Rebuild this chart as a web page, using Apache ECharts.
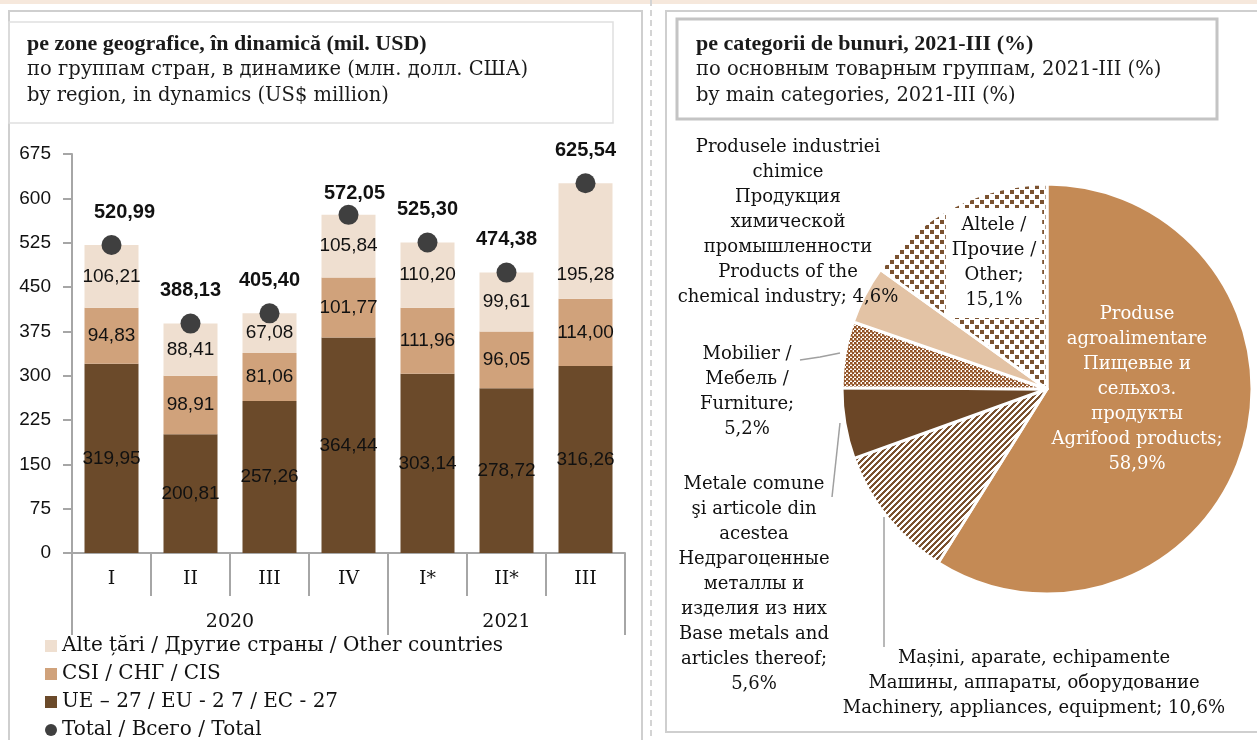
<!DOCTYPE html>
<html>
<head>
<meta charset="utf-8">
<script src="https://cdn.jsdelivr.net/npm/echarts@6/dist/echarts.min.js"></script>
<style>
  html, body { margin: 0; padding: 0; background: #fff; }
  #chart { width: 1257px; height: 740px; }
</style>
</head>
<body>
<div id="chart"></div>
<script>
  // --- data ---
  var quarters = ['I', 'II', 'III', 'IV', 'I*', 'II*', 'III'];
  var years = ['2020', '2021'];
  var yearSpans = [4, 3];
  var euVals = [319.95, 200.81, 257.26, 364.44, 303.14, 278.72, 316.26];
  var cisVals = [94.83, 98.91, 81.06, 101.77, 111.96, 96.05, 114.00];
  var otherVals = [106.21, 88.41, 67.08, 105.84, 110.20, 99.61, 195.28];
  var totalVals = [520.99, 388.13, 405.40, 572.05, 525.30, 474.38, 625.54];
  var seriesNames = ['UE – 27 / EU - 2 7 / EC - 27', 'CSI / СНГ / CIS', 'Alte țări / Другие страны / Other countries', 'Total / Всего / Total'];

  var pieNames = [
    'Produse\nagroalimentare\nПищевые и\nсельхоз.\nпродукты\nAgrifood products',
    'Mașini, aparate, echipamente\nМашины, аппараты, оборудование\nMachinery, appliances, equipment',
    'Metale comune\nşi articole din\nacestea\nНедрагоценные\nметаллы и\nизделия из них\nBase metals and\narticles thereof',
    'Mobilier /\nМебель /\nFurniture',
    'Produsele industriei\nchimice\nПродукция\nхимической\nпромышленности\nProducts of the\nchemical industry',
    'Altele /\nПрочие /\nOther'
  ];
  var pieVals = [58.9, 10.6, 5.6, 5.2, 4.6, 15.1];

  // --- styles ---
  var SERIF = "'DejaVu Serif', 'Liberation Serif', serif";
  var SERIF_B = "'Liberation Serif', 'DejaVu Serif', serif";
  var SANS = "'Liberation Sans', Arial, sans-serif";
  var axisGray = '#a6a6a6';
  var barColors = ['#6b4a2a', '#d0a27b', '#efdfd0'];

  function fmt2(v) { return v.toFixed(2).replace('.', ','); }
  function fmt1(v) { return v.toFixed(1).replace('.', ','); }

  function pattern(w, h, draw) {
    var c = document.createElement('canvas');
    c.width = w; c.height = h;
    var ctx = c.getContext('2d');
    ctx.fillStyle = '#fff';
    ctx.fillRect(0, 0, w, h);
    draw(ctx);
    return { image: c, repeat: 'repeat' };
  }
  var stripes = pattern(6, 6, function (ctx) {
    ctx.fillStyle = '#7b5230';
    for (var x = 0; x < 6; x++) for (var y = 0; y < 6; y++) if ((x + y) % 6 < 3) ctx.fillRect(x, y, 1, 1);
  });
  var checker = pattern(4, 4, function (ctx) {
    ctx.fillStyle = '#8e5228';
    ctx.fillRect(0, 0, 2, 2); ctx.fillRect(2, 2, 2, 2);
    ctx.fillStyle = '#c99a76';
    ctx.fillRect(2, 0, 2, 1); ctx.fillRect(0, 2, 1, 2);
  });
  var dots = pattern(10, 10, function (ctx) {
    ctx.fillStyle = '#7b5230';
    ctx.fillRect(0, 0, 4, 4); ctx.fillRect(5, 5, 4, 4);
  });
  var pieFills = ['#c48a55', stripes, '#6b4626', checker, '#e3c3a5', dots];
  var pieSep = [';\n', '; ', ';\n', ';\n', '; ', ';\n'];
  var pieLabelPos = [[1137, 389], [1034, 683], [754, 584], [747, 392], [788, 222], [994, 263]];
  var pieLines = [null, [[884, 517], [884, 580], [884, 647]], [[840, 423], [836, 460], [832, 497]], [[840, 353], [820, 357], [800, 360]], null, null];

  // year axis ticks and label positions from spans
  var yearTicks = [0], yearLabelPos = [];
  yearSpans.forEach(function (s) {
    var start = yearTicks[yearTicks.length - 1];
    yearLabelPos.push(start + s / 2);
    yearTicks.push(start + s);
  });

  var chart = echarts.init(document.getElementById('chart'));

  var barSeries = [euVals, cisVals, otherVals].map(function (vals, i) {
    return {
      name: seriesNames[i],
      type: 'bar',
      stack: 'total',
      barWidth: 54,
      data: vals.map(function (v, j) {
        var d = { value: v };
        if (i === 2 && j === 6) d.label = { offset: [0, 34] };
        return d;
      }),
      itemStyle: { color: barColors[i] },
      label: {
        show: true, position: 'inside', color: '#111',
        fontFamily: SANS, fontSize: 19,
        formatter: function (p) { return fmt2(p.value); }
      }
    };
  });

  var totalSeries = {
    name: seriesNames[3],
    type: 'scatter',
    symbolSize: 20,
    z: 5,
    data: totalVals.map(function (v, j) {
      var d = { value: v };
      if (j === 0) d.label = { offset: [13, 0] };
      if (j === 3) d.label = { offset: [6, 12] };
      return d;
    }),
    itemStyle: { color: '#3f3f3f', opacity: 1 },
    label: {
      show: true, position: 'top', distance: 13, color: '#111',
      fontFamily: SANS, fontSize: 20, fontWeight: 'bold',
      formatter: function (p) { return fmt2(p.value); }
    }
  };

  var pieSeries = {
    type: 'pie',
    center: [1047, 389],
    radius: 205,
    startAngle: 90,
    clockwise: true,
    animation: false,
    avoidLabelOverlap: false,
    itemStyle: { borderColor: '#fff', borderWidth: 3 },
    label: {
      show: true, position: 'outside', color: '#111',
      fontFamily: SERIF, fontSize: 18, lineHeight: 25, align: 'center',
      formatter: function (p) { return p.name + pieSep[p.dataIndex] + fmt1(p.value) + '%'; }
    },
    labelLine: { show: false, lineStyle: { color: '#a0a0a0', width: 1.5 } },
    labelLayout: function (params) {
      var i = params.dataIndex;
      var r = { x: pieLabelPos[i][0], y: pieLabelPos[i][1], align: 'center', verticalAlign: 'middle' };
      if (pieLines[i]) r.labelLinePoints = pieLines[i];
      return r;
    },
    data: pieNames.map(function (n, i) {
      var d = { name: n, value: pieVals[i], itemStyle: { color: pieFills[i] } };
      if (pieLines[i]) d.labelLine = { show: true };
      if (i === 0) d.label = { position: 'inside', color: '#fff' };
      if (i === 5) d.label = { backgroundColor: '#fff', padding: [5, 6] };
      return d;
    })
  };

  function titleLines(x, lines) {
    return lines.map(function (t, k) {
      return {
        type: 'text', left: x, top: [33, 60, 86][k],
        style: { text: t, font: (k === 0 ? 'bold 22px ' + SERIF_B : '19.5px ' + SERIF), fill: '#1a1a1a' }
      };
    });
  }

  chart.setOption({
    animation: false,
    textStyle: { fontFamily: SERIF },
    graphic: [
      { type: 'rect', shape: { x: 0, y: 0, width: 1257, height: 4 }, style: { fill: '#f6e8dc' } },
      { type: 'rect', shape: { x: 9, y: 11, width: 633, height: 740 }, style: { fill: 'none', stroke: '#cfcfcf', lineWidth: 2 } },
      { type: 'rect', shape: { x: 9, y: 22, width: 604, height: 101 }, style: { fill: 'none', stroke: '#e0e0e0', lineWidth: 1.5 } },
      { type: 'line', shape: { x1: 651, y1: 0, x2: 651, y2: 740 }, style: { stroke: '#d4d4d4', lineWidth: 2, lineDash: [6, 4] } },
      { type: 'rect', shape: { x: 666, y: 11, width: 600, height: 721 }, style: { fill: 'none', stroke: '#cfcfcf', lineWidth: 2 } },
      { type: 'rect', shape: { x: 677, y: 19, width: 540, height: 100 }, style: { fill: 'none', stroke: '#c4c4c4', lineWidth: 3 } }
    ].concat(titleLines(27, [
      'pe zone geografice, în dinamică (mil. USD)',
      'по группам стран, в динамике (млн. долл. США)',
      'by region, in dynamics (US$ million)'
    ])).concat(titleLines(696, [
      'pe categorii de bunuri, 2021-III (%)',
      'по основным товарным группам, 2021-III (%)',
      'by main categories, 2021-III (%)'
    ])),
    legend: {
      orient: 'vertical', left: 40, top: 630, height: 140,
      itemWidth: 12, itemHeight: 12, itemGap: 6,
      selectedMode: false,
      textStyle: { fontFamily: SERIF, fontSize: 20, lineHeight: 22, color: '#111' },
      data: [
        { name: seriesNames[2], icon: 'rect' },
        { name: seriesNames[1], icon: 'rect' },
        { name: seriesNames[0], icon: 'rect' },
        { name: seriesNames[3], icon: 'circle' }
      ]
    },
    grid: { left: 72, right: 632, top: 154, bottom: 187, containLabel: false },
    xAxis: [{
      type: 'category',
      data: quarters,
      axisLine: { lineStyle: { color: axisGray, width: 2 } },
      axisTick: { show: true, interval: 0, length: 43, lineStyle: { color: axisGray, width: 2 } },
      axisLabel: { interval: 0, margin: 17, fontFamily: SERIF, fontSize: 19, color: '#111' }
    }, {
      type: 'value',
      min: 0, max: 7,
      position: 'bottom',
      axisLine: { show: false },
      splitLine: { show: false },
      axisTick: { show: true, customValues: yearTicks, length: 82, lineStyle: { color: axisGray, width: 2 } },
      axisLabel: {
        customValues: yearLabelPos, margin: 60, fontFamily: SERIF, fontSize: 19, color: '#111',
        formatter: function (v) { return years[yearLabelPos.indexOf(v)]; }
      }
    }],
    yAxis: {
      type: 'value', min: 0, max: 675, interval: 75,
      axisLine: { show: true, lineStyle: { color: axisGray, width: 2 } },
      axisTick: { show: true, length: 9, lineStyle: { color: axisGray, width: 2 } },
      splitLine: { show: false },
      axisLabel: { margin: 21, fontFamily: SANS, fontSize: 19, color: '#111' }
    },
    series: barSeries.concat([totalSeries, pieSeries])
  });
</script>
</body>
</html>
